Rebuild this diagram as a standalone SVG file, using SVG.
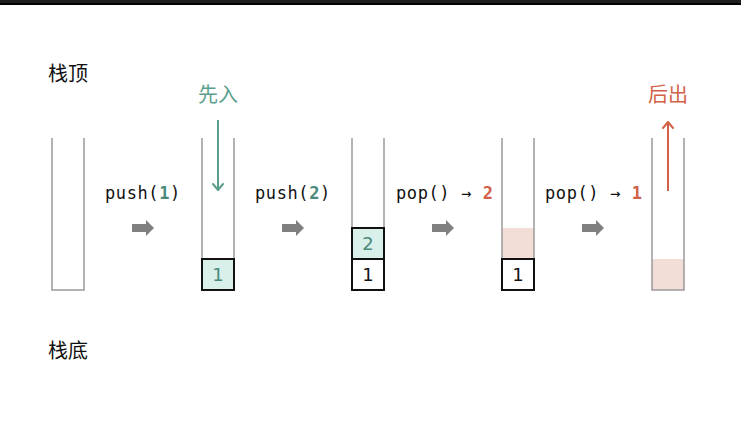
<svg xmlns="http://www.w3.org/2000/svg" width="741" height="424" viewBox="0 0 741 424">
  <style>
    .wall { stroke: #9a9a9a; stroke-width: 1.5; fill: none; }
    .cell { stroke: #111; stroke-width: 2; }
    .in { fill: #d8efea; }
    .plain { fill: #ffffff; }
    .gone { fill: #f2ddd7; }
    .num { font-family: "DejaVu Sans", "Liberation Sans", sans-serif; font-size: 18px; text-anchor: middle; }
    .op { font-family: "DejaVu Sans Mono", "Liberation Mono", monospace; font-size: 17px; letter-spacing: 0.6px; fill: #111; }
    .cjk { font-family: "Noto Sans CJK SC", sans-serif; font-size: 20px; }
    .fat { fill: #808080; }
    .head { fill: none; stroke-width: 2; stroke-linecap: round; stroke-linejoin: round; }
  </style>
  <defs>
    <path id="fatArrow" d="M0,-4 H14 V-8 L22,0 L14,8 V4 H0 Z"/>
  </defs>

  <!-- top rule -->
  <rect x="0" y="0" width="741" height="3" fill="#1e1e1e"/>
  <rect x="0" y="3" width="741" height="2" fill="#000"/>

  <text class="cjk" x="48" y="81" fill="#111">栈顶</text>
  <text class="cjk" x="48" y="358" fill="#111">栈底</text>

  <!-- stack 0: empty -->
  <g id="stack0">
    <path class="wall" d="M52,138 V290 H84 V138"/>
  </g>

  <!-- stack 1: after push(1) -->
  <g id="stack1">
    <path class="wall" d="M202,138 V290 H234 V138"/>
    <rect class="cell in" x="202" y="259" width="32" height="31"/>
    <text class="num" x="218" y="281" fill="#4a8a7a">1</text>
  </g>

  <!-- stack 2: after push(2) -->
  <g id="stack2">
    <path class="wall" d="M352,138 V290 H384 V138"/>
    <rect class="cell in" x="352" y="228" width="32" height="31"/>
    <text class="num" x="368" y="250" fill="#4a8a7a">2</text>
    <rect class="cell plain" x="352" y="259" width="32" height="31"/>
    <text class="num" x="368" y="281" fill="#111">1</text>
  </g>

  <!-- stack 3: after pop() -> 2 -->
  <g id="stack3">
    <rect class="gone" x="502" y="228" width="32" height="31"/>
    <path class="wall" d="M502,138 V290 H534 V138"/>
    <rect class="cell plain" x="502" y="259" width="32" height="31"/>
    <text class="num" x="518" y="281" fill="#111">1</text>
  </g>

  <!-- stack 4: after pop() -> 1 -->
  <g id="stack4">
    <rect class="gone" x="652" y="259" width="32" height="31"/>
    <path class="wall" d="M652,138 V290 H684 V138"/>
  </g>

  <!-- flow labels -->
  <g id="labels">
    <text class="cjk" x="218" y="102" fill="#5a9e8d" text-anchor="middle">先入</text>
    <text class="cjk" x="668" y="102" fill="#d2614a" text-anchor="middle">后出</text>
    <text class="op" x="105" y="199">push(<tspan fill="#4a8a7a" font-weight="bold">1</tspan>)</text>
    <text class="op" x="255" y="199">push(<tspan fill="#4a8a7a" font-weight="bold">2</tspan>)</text>
    <text class="op" x="396" y="199">pop() → <tspan fill="#d2614a" font-weight="bold">2</tspan></text>
    <text class="op" x="545" y="199">pop() → <tspan fill="#d2614a" font-weight="bold">1</tspan></text>
  </g>

  <!-- connectors -->
  <g id="connectors">
    <line x1="218" y1="120" x2="218" y2="190" stroke="#5a9e8d" stroke-width="2"/>
    <path class="head" d="M213,184 L218,190 L223,184" stroke="#5a9e8d"/>
    <line x1="668" y1="191" x2="668" y2="122" stroke="#d2614a" stroke-width="2"/>
    <path class="head" d="M663,128 L668,122 L673,128" stroke="#d2614a"/>
    <use href="#fatArrow" class="fat" x="132" y="228"/>
    <use href="#fatArrow" class="fat" x="282" y="228"/>
    <use href="#fatArrow" class="fat" x="432" y="228"/>
    <use href="#fatArrow" class="fat" x="582" y="228"/>
  </g>
</svg>
